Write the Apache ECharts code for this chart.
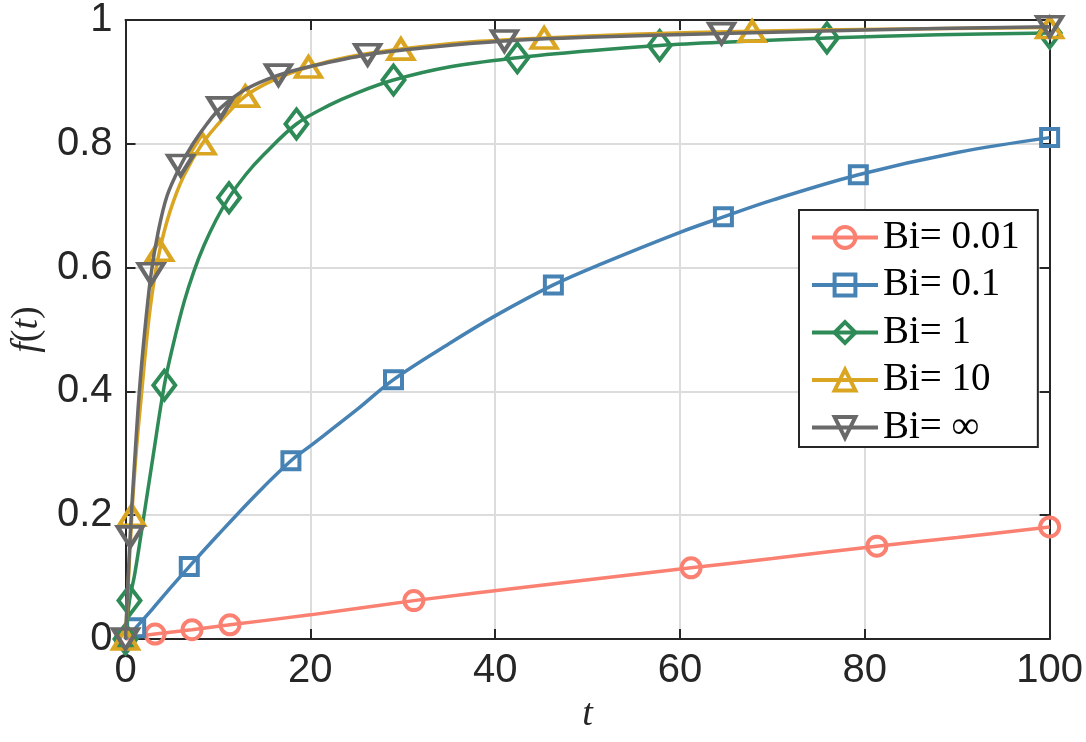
<!DOCTYPE html>
<html><head><meta charset="utf-8">
<script src="https://cdn.jsdelivr.net/npm/echarts@6/dist/echarts.min.js"></script>
<style>html,body{margin:0;padding:0;background:#fff}#c{width:1086px;height:742px}</style>
</head><body><div id="c"></div><script>
const xTicks = [0, 20, 40, 60, 80, 100];
const yTicks = [0, 0.2, 0.4, 0.6, 0.8, 1];
const seriesNames = ['Bi= 0.01', 'Bi= 0.1', 'Bi= 1', 'Bi= 10', 'Bi= \u221e'];

const bi001Curve = [[0,0],[3.2,0.008],[7.2,0.015],[11.3,0.023],[20,0.039],[31.2,0.062],[45,0.087],[61.2,0.115],[70,0.13],[81.3,0.15],[90,0.164],[100,0.181]];
const bi001Marks = [0,3.2,7.2,11.3,31.2,61.2,81.3,100];

const bi01Curve = [[0,0],[1.1,0.018],[3,0.05],[5,0.085],[6.9,0.117],[10,0.168],[14.3,0.236],[17.9,0.288],[20,0.312],[25,0.37],[29,0.419],[35,0.477],[40,0.522],[46.3,0.572],[51.5,0.606],[60,0.657],[64.7,0.682],[70,0.709],[79.3,0.75],[90,0.786],[100,0.81]];
const bi01Marks = [0,1.1,6.9,17.9,29,46.3,64.7,79.3,100];

const bi1Curve = [[0,0],[0.43,0.062],[1,0.105],[2,0.2],[3,0.297],[4.2,0.41],[5.2,0.478],[6.35,0.545],[7.4,0.594],[8.5,0.636],[9.8,0.677],[11.2,0.713],[13,0.75],[15,0.783],[18.5,0.832],[22,0.862],[25,0.882],[29,0.903],[35,0.924],[42.4,0.939],[50,0.95],[57.8,0.959],[66,0.965],[75.9,0.971],[88,0.976],[100,0.979]];
const bi1Marks = [0,0.43,4.2,11.2,18.5,29,42.4,57.8,75.9,100];

const bi10Curve = [[0,0],[0.68,0.2],[1.2,0.31],[1.76,0.4],[2.4,0.5],[3,0.57],[3.7,0.628],[4.8,0.69],[6.3,0.748],[8.3,0.8],[10.5,0.84],[12.96,0.877],[16,0.903],[19.8,0.924],[24,0.94],[29.8,0.953],[37,0.964],[45.3,0.971],[55,0.977],[67.8,0.982],[82,0.985],[100,0.988]];
const bi10Marks = [0,0.68,3.7,8.3,12.96,19.8,29.8,45.3,67.8,100];

const biInfCurve = [[0,0],[0.5,0.165],[1,0.29],[1.5,0.4],[2.1,0.5],[2.77,0.59],[3.5,0.655],[4.5,0.716],[5.96,0.765],[7.3,0.8],[8.8,0.832],[10.3,0.858],[13,0.888],[16.55,0.911],[20,0.925],[26.2,0.944],[33,0.956],[41,0.966],[50,0.972],[64.5,0.978],[80,0.984],[100,0.989]];
const biInfMarks = [0,0.5,2.77,5.96,10.3,16.55,26.2,41,64.5,100];

const colors = ['salmon', 'steelblue', 'seagreen', 'goldenrod', 'dimgray'];
const symbols = ['circle', 'rect', 'diamond', 'triangle', 'path://M0,0 L2,0 L1,1.6 Z'];
const symbolSizes = [19, 17, [22, 29], [25, 20], [25, 20]];
const curves = [bi001Curve, bi01Curve, bi1Curve, bi10Curve, biInfCurve];
const marks = [bi001Marks, bi01Marks, bi1Marks, bi10Marks, biInfMarks];

function buildData(curve, mk) {
  return curve.map(([t, f]) => mk.includes(t) ? [t, f] : { value: [t, f], symbol: 'none' });
}

const series = seriesNames.map((name, i) => ({
  type: 'line', name, data: buildData(curves[i], marks[i]),
  xAxisIndex: 0, yAxisIndex: 0,
  smooth: 0.35,
  symbol: symbols[i], symbolSize: symbolSizes[i], showAllSymbol: true, clip: false,
  lineStyle: { color: colors[i], width: 3.5 },
  itemStyle: { color: 'rgba(255,255,255,0)', borderColor: colors[i], borderWidth: 4 },
  emphasis: { disabled: true }, z: 3 + i
}));

const axisColor = '#262626';
const lineSt = { color: axisColor, width: 2 };
const serif = 'Liberation Serif';

const chart = echarts.init(document.getElementById('c'), null, { renderer: 'canvas' });
chart.setOption({
  animation: false,
  backgroundColor: '#fff',
  grid: { left: 123, right: 35, top: 19, bottom: 103, containLabel: false },
  xAxis: [
    { type: 'value', position: 'bottom', min: xTicks[0], max: xTicks[xTicks.length - 1], interval: xTicks[1] - xTicks[0],
      axisLine: { onZero: false, lineStyle: lineSt },
      axisTick: { inside: true, length: 10, lineStyle: lineSt },
      axisLabel: { fontFamily: 'Liberation Sans', fontSize: 40, color: axisColor, margin: 12 },
      splitLine: { show: true, lineStyle: { color: '#dcdcdc', width: 2 } },
      name: 't', nameLocation: 'middle', nameGap: 57,
      nameTextStyle: { fontFamily: serif, fontStyle: 'italic', fontSize: 38, color: axisColor } },
    { type: 'value', position: 'top', min: xTicks[0], max: xTicks[xTicks.length - 1], interval: xTicks[1] - xTicks[0],
      axisLine: { onZero: false, lineStyle: lineSt },
      axisTick: { inside: true, length: 10, lineStyle: lineSt },
      axisLabel: { show: false }, splitLine: { show: false } }
  ],
  yAxis: [
    { type: 'value', position: 'left', min: yTicks[0], max: yTicks[yTicks.length - 1], interval: 0.2,
      axisLine: { onZero: false, lineStyle: lineSt },
      axisTick: { inside: true, length: 10, lineStyle: lineSt },
      axisLabel: { fontFamily: 'Liberation Sans', fontSize: 40, color: axisColor, margin: 13 },
      splitLine: { show: true, lineStyle: { color: '#dcdcdc', width: 2 } },
      name: '{i|f}{r|(}{i|t}{r|)}', nameLocation: 'middle', nameGap: 78,
      nameTextStyle: { fontFamily: serif, fontSize: 38, color: axisColor,
        rich: { i: { fontFamily: serif, fontStyle: 'italic', fontSize: 38, color: axisColor },
                r: { fontFamily: serif, fontSize: 38, color: axisColor } } } },
    { type: 'value', position: 'right', min: yTicks[0], max: yTicks[yTicks.length - 1], interval: 0.2,
      axisLine: { onZero: false, lineStyle: lineSt },
      axisTick: { inside: true, length: 10, lineStyle: lineSt },
      axisLabel: { show: false }, splitLine: { show: false } }
  ],
  legend: {
    orient: 'vertical', left: 799, top: 210,
    itemWidth: 66, itemHeight: 26, itemGap: 8.5,
    padding: [8, 18, 0, 11],
    backgroundColor: '#fff', borderColor: axisColor, borderWidth: 2,
    selectedMode: false,
    lineStyle: { width: 4 },
    itemStyle: { borderWidth: 4 },
    textStyle: { fontFamily: serif, fontSize: 39, color: '#000', lineHeight: 36 },
    data: seriesNames
  },
  series
});
</script></body></html>
